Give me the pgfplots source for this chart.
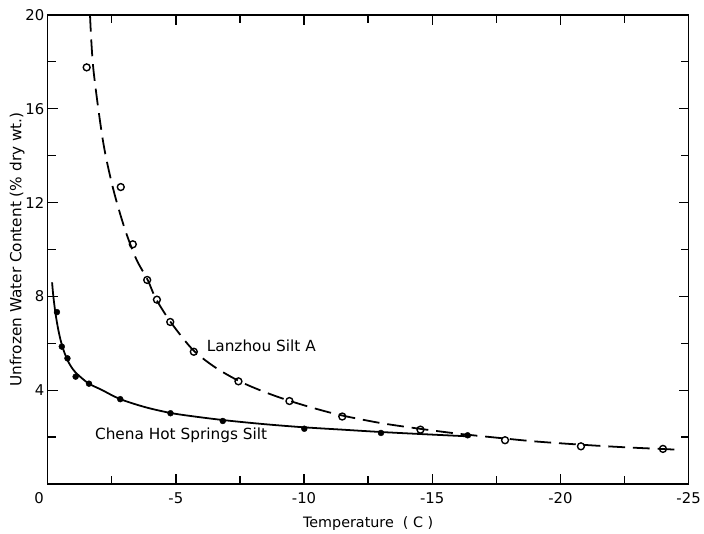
\documentclass[border=0pt]{standalone}
\usepackage{pgfplots}
\pgfplotsset{compat=1.18}
\usepackage{fontspec}
\setmainfont{DejaVu Sans}
\begin{document}
\begin{tikzpicture}
\begin{axis}[
  scale only axis,
  width=648.7pt, height=475pt,
  x dir=reverse,
  xmin=-25, xmax=0, ymin=0, ymax=20,
  axis line style={line width=1.6pt},
  every tick/.style={black, line width=1.4pt},
  tick align=inside,
  major tick length=10pt,
  minor tick length=8pt,
  xtick={0,-5,-10,-15,-20,-25},
  xticklabels={\makebox[0pt][r]{0\hspace{4pt}},-5,-10,-15,-20,-25},
  minor xtick={-2.5,-7.5,-12.5,-17.5,-22.5},
  ytick={4,8,12,16,20},
  yticklabels={4,8,12,16,20},
  minor ytick={2,6,10,14,18},
  tick label style={font=\fontsize{15}{17}\selectfont},
  xticklabel style={yshift=-5pt},
  xlabel={Temperature\ \ ( C )},
  ylabel={Unfrozen Water Content (\% dry wt.)},
  xlabel style={font=\fontsize{14.5}{17}\selectfont, yshift=-6pt},
  ylabel style={font=\fontsize{15.5}{17}\selectfont, yshift=-6pt},
  clip=false,
]
% Chena Hot Springs Silt - fitted curve
\addplot[black, line width=1.8pt, smooth, tension=0.5] coordinates {
(-0.17,8.6)(-0.22,8.0)(-0.3,7.3)(-0.4,6.65)(-0.5,6.15)(-0.62,5.7)(-0.81,5.2)
(-1.07,4.78)(-1.58,4.3)(-2.1,4.02)(-2.81,3.63)(-3.8,3.28)(-4.8,3.03)(-5.8,2.87)
(-7,2.71)(-8.5,2.55)(-10,2.42)(-11.5,2.32)(-13,2.22)(-14.8,2.12)(-16.5,2.03)
};
% Chena points
\addplot[only marks, mark=*, mark size=3pt, black] coordinates {
(-0.36,7.33)(-0.55,5.86)(-0.77,5.36)(-1.09,4.58)(-1.61,4.28)(-2.83,3.62)
(-4.79,3.02)(-6.83,2.69)(-10.01,2.36)(-13.0,2.18)(-16.38,2.08)
};
% Lanzhou Silt A - fitted curve
\addplot[black, line width=1.8pt, smooth, tension=0.5, dash pattern=on 17pt off 8pt] coordinates {
(-1.65,20)(-1.78,17.7)(-2.16,14.6)(-2.55,12.6)(-3.0,10.9)(-3.45,9.6)(-3.9,8.7)
(-4.22,7.9)(-4.8,6.9)(-5.64,5.75)(-6.5,5.0)(-7.45,4.4)(-8.4,3.95)(-9.4,3.56)
(-10.5,3.2)(-11.5,2.92)(-13,2.6)(-14.5,2.36)(-16,2.15)(-17.5,1.98)(-19,1.82)
(-20.8,1.68)(-22.5,1.57)(-24.5,1.47)
};
% Lanzhou points
\addplot[only marks, mark=o, mark size=3.5pt, black, mark options={line width=1.4pt, fill=white}] coordinates {
(-1.52,17.76)(-2.85,12.66)(-3.32,10.22)(-3.88,8.70)(-4.26,7.86)(-4.78,6.91)
(-5.70,5.64)(-7.44,4.38)(-9.43,3.54)(-11.49,2.88)(-14.54,2.32)(-17.84,1.87)
(-20.8,1.61)(-24.0,1.50)
};
\node[anchor=west, inner sep=0pt, font=\fontsize{15.5}{18}\selectfont] at (axis cs:-6.2,5.9) {Lanzhou Silt A};
\node[anchor=west, inner sep=0pt, font=\fontsize{15.5}{18}\selectfont] at (axis cs:-1.84,2.06) {Chena Hot Springs Silt};
\end{axis}
\path ([shift={(-48.3pt,-46pt)}]current axis.south west) rectangle ([shift={(7pt,15pt)}]current axis.north east);
\end{tikzpicture}
\end{document}
